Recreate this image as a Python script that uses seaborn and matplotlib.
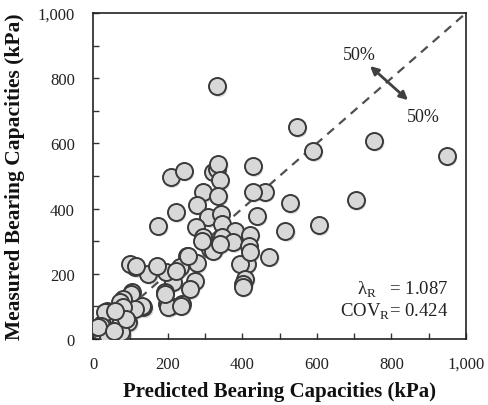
import matplotlib
matplotlib.use("Agg")
import matplotlib.pyplot as plt
import matplotlib.ticker as mticker
import matplotlib.transforms as mtransforms
import seaborn as sns
import pandas as pd

predicted = [333, 547, 590, 754, 949, 705, 528, 606, 516, 473, 460, 429, 440, 429,
             208, 244, 322, 332, 336, 340, 296, 336, 278, 222, 175, 309, 342, 275,
             345, 381, 421, 296, 345, 376, 418, 327, 314, 322, 291, 340, 251, 278,
             233, 412, 395, 408, 403, 401, 420,
             215, 273, 260, 193, 238, 206, 198, 197, 148, 171, 113, 99, 116, 104,
             103, 135, 130, 112, 81, 72, 80, 95, 46, 23, 37, 31, 22, 63, 76, 40,
             76, 13, 223, 255, 201, 237, 192, 55, 88, 60]
measured = [775, 650, 576, 608, 562, 426, 416, 349, 331, 253, 451, 451, 378, 530,
            496, 516, 513, 520, 537, 487, 450, 440, 411, 389, 348, 373, 383, 345,
            353, 332, 320, 312, 314, 297, 285, 281, 275, 271, 301, 291, 256, 232,
            220, 230, 230, 184, 169, 160, 266,
            175, 179, 153, 143, 107, 102, 107, 204, 199, 225, 220, 230, 225, 143,
            138, 97, 102, 92, 123, 112, 97, 51, 72, 46, 87, 82, 41, 31, 56, 10,
            20, 36, 210, 256, 97, 102, 138, 25, 62, 85]

ticks = [0, 200, 400, 600, 800, 1000]
ref_line = [0, 1000]

df = pd.DataFrame({"Predicted": predicted, "Measured": measured})

sns.set_theme(style="white")
plt.rcParams["font.family"] = ["Liberation Serif", "DejaVu Serif"]
plt.rcParams["mathtext.fontset"] = "custom"
plt.rcParams["mathtext.rm"] = "Liberation Serif"

fig = plt.figure(figsize=(4.88, 4.06), dpi=100)
ax = fig.add_axes([0.1906, 0.1626, 0.7644, 0.8029])

ax.plot(ref_line, ref_line, linestyle=(0, (4, 3)), color="#505050", lw=1.6, zorder=1)

# soft shadow
shadow = mtransforms.offset_copy(ax.transData, fig=fig, x=1.5, y=-2.0, units="dots")
sns.scatterplot(data=df, x="Predicted", y="Measured", ax=ax, s=160,
                color="#9a9a9a", edgecolor="none", alpha=0.35, zorder=2,
                legend=False, transform=shadow)
# main spheres
sns.scatterplot(data=df, x="Predicted", y="Measured", ax=ax, s=150,
                color="#d8d8d8", edgecolor="#3a3a3a", linewidth=1.4, zorder=3,
                legend=False)

ax.set_xlim(0, 1000)
ax.set_ylim(0, 1000)
ax.set_xticks(ticks)
ax.set_yticks(ticks)
ax.xaxis.set_minor_locator(mticker.MultipleLocator(100))
ax.yaxis.set_minor_locator(mticker.MultipleLocator(100))
fmt = mticker.FuncFormatter(lambda v, p: f"{int(v):,}")
ax.xaxis.set_major_formatter(fmt)
ax.yaxis.set_major_formatter(fmt)
ax.tick_params(which="both", direction="in", length=4, width=1, color="#333333",
               labelsize=12, labelcolor="#222222", bottom=True, left=True)
ax.tick_params(axis="x", pad=12)
ax.tick_params(axis="y", pad=13)
for sp in ax.spines.values():
    sp.set_color("#222222")
    sp.set_linewidth(1.2)

ax.set_xlabel("Predicted Bearing Capacities (kPa)", fontsize=15, fontweight="bold",
              labelpad=7, color="#111111")
ax.set_ylabel("Measured Bearing Capacities (kPa)", fontsize=15.5, fontweight="bold",
              labelpad=9, color="#111111")

ax.annotate("", xy=(737, 843), xytext=(850, 727),
            arrowprops=dict(arrowstyle="<|-|>", color="#404040", lw=2,
                            mutation_scale=12), zorder=5)
ax.text(713, 874, "50%", ha="center", va="center", fontsize=13, color="#222222")
ax.text(885, 684, "50%", ha="center", va="center", fontsize=13, color="#222222")

ax.text(952, 153, "λ$_{\\mathrm{R}}$   = 1.087", ha="right", va="center",
        fontsize=13.5, color="#222222")
ax.text(952, 86, "COV$_{\\mathrm{R}}$= 0.424", ha="right", va="center",
        fontsize=13.5, color="#222222")

fig.savefig("out.png", dpi=100)
